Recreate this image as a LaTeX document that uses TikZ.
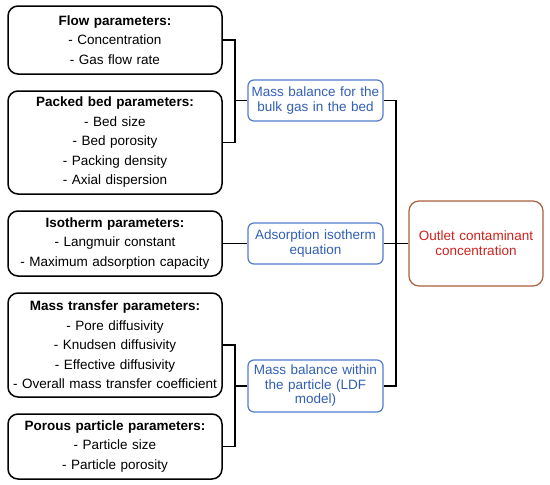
\documentclass[tikz,border=0pt]{standalone}
\usepackage{fontspec}
\setmainfont{Liberation Sans}
\definecolor{bluebd}{RGB}{80,125,205}
\definecolor{bluetx}{RGB}{50,95,180}
\definecolor{redbd}{RGB}{170,95,60}
\definecolor{redtx}{RGB}{205,35,30}
\begin{document}
\begin{tikzpicture}[x=1pt,y=-1pt,
  parbox/.style={draw=black,line width=1.5pt,rounded corners=10pt,fill=white,
    minimum width=214pt,text width=210pt,align=center,inner sep=0pt,
    font={\fontsize{13.5}{19.5}\selectfont}},
  eqbox/.style={draw=bluebd,line width=1.2pt,rounded corners=6pt,fill=white,
    minimum width=135pt,text width=133pt,align=center,inner sep=0pt,text=bluetx,
    font={\fontsize{13.5}{14.5}\selectfont}},
  outbox/.style={draw=redbd,line width=1.2pt,rounded corners=10pt,fill=white,
    minimum width=134pt,text width=132pt,align=center,inner sep=0pt,text=redtx,
    minimum height=85pt,font={\fontsize{13.5}{15}\selectfont}},
  conn/.style={draw=black,line width=1.2pt}]
\useasboundingbox (0,0) rectangle (550,485);
\node[parbox,minimum height=68pt] (flow) at (115,40) {\textbf{Flow parameters:}\\- Concentration\\- Gas flow rate};
\node[parbox,minimum height=103pt] (packed) at (115,142.5) {\textbf{Packed bed parameters:}\\- Bed size\\- Bed porosity\\- Packing density\\- Axial dispersion};
\node[parbox,minimum height=65pt] (iso) at (115,243.5) {\textbf{Isotherm parameters:}\\- Langmuir constant\\- Maximum adsorption capacity};
\node[parbox,minimum height=104pt] (mt) at (115,345) {\textbf{Mass transfer parameters:}\\- Pore diffusivity\\- Knudsen diffusivity\\- Effective diffusivity\\- Overall mass transfer coefficient};
\node[parbox,minimum height=65pt] (por) at (115,446.5) {\textbf{Porous particle parameters:}\\- Particle size\\- Particle porosity};
\node[eqbox,minimum height=41pt] (bulk) at (315.5,100.5) {Mass balance for the\\bulk gas in the bed};
\node[eqbox,minimum height=41pt] (ads) at (315.5,243.5) {Adsorption isotherm\\equation};
\node[eqbox,minimum height=52pt] (part) at (315.5,386) {Mass balance within\\the particle (LDF\\model)};
\node[outbox] (out) at (476,243.5) {Outlet contaminant\\concentration};
\coordinate (j1) at (235,100.5);
\coordinate (j3) at (235,386);
\coordinate (j2) at (396,243.5);
\draw[conn] (flow.east) -| (j1) -- (bulk.west);
\draw[conn] (packed.east) -| (j1);
\draw[conn] (mt.east) -| (j3) -- (part.west);
\draw[conn] (por.east) -| (j3);
\draw[conn] (iso.east) -- (ads.west);
\draw[conn] (bulk.east) -| (j2);
\draw[conn] (part.east) -| (j2);
\draw[conn] (ads.east) -- (out.west);
\end{tikzpicture}
\end{document}
